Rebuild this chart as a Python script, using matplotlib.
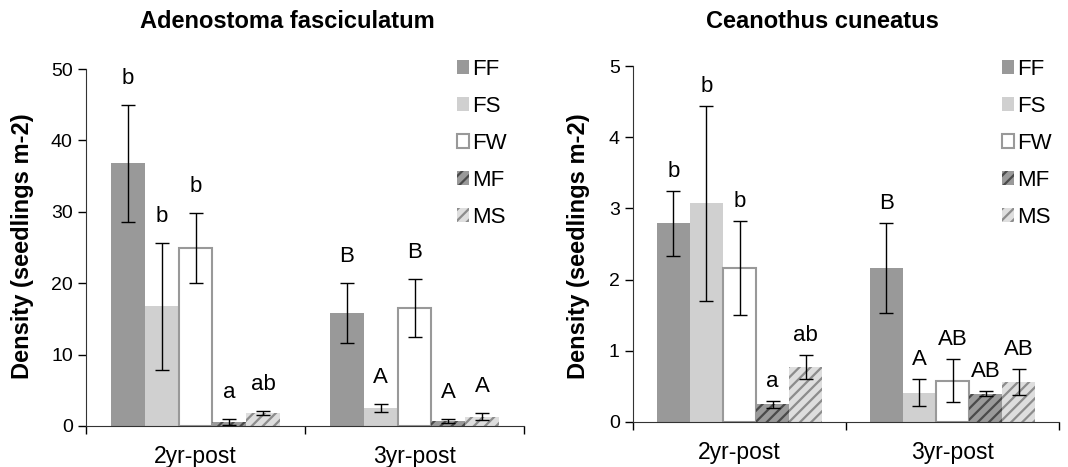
import matplotlib

matplotlib.use("Agg")

import matplotlib.pyplot as plt
import numpy as np
from matplotlib.patches import Patch

plt.rcParams["font.family"] = ["Liberation Sans", "DejaVu Sans"]
plt.rcParams["hatch.linewidth"] = 1.6

periods = ["2yr-post", "3yr-post"]
treatments = ["FF", "FS", "FW", "MF", "MS"]

# Adenostoma fasciculatum: mean, SE, letters (rows = periods)
adeno_mean = [[36.8, 16.8, 24.9, 0.6, 1.8],
              [15.8, 2.5, 16.5, 0.7, 1.3]]
adeno_err = [[8.2, 8.9, 4.9, 0.45, 0.25],
             [4.2, 0.6, 4.1, 0.3, 0.5]]
adeno_letters = [["b", "b", "b", "a", "ab"],
                 ["B", "A", "B", "A", "A"]]

# Ceanothus cuneatus
cean_mean = [[2.79, 3.07, 2.16, 0.25, 0.77],
             [2.16, 0.41, 0.58, 0.40, 0.56]]
cean_err = [[0.46, 1.37, 0.66, 0.05, 0.17],
            [0.63, 0.19, 0.30, 0.04, 0.18]]
cean_letters = [["b", "b", "b", "a", "ab"],
                ["B", "A", "AB", "AB", "AB"]]

# bar styles
STYLES = {
    "FF": dict(facecolor="#999999", edgecolor="#999999", hatch=None, lw=0),
    "FS": dict(facecolor="#d0d0d0", edgecolor="#d0d0d0", hatch=None, lw=0),
    "FW": dict(facecolor="white", edgecolor="#999999", hatch=None, lw=1.5),
    "MF": dict(facecolor="#9a9a9a", edgecolor="#4a4a4a", hatch="///", lw=0),
    "MS": dict(facecolor="#dedede", edgecolor="#8c8c8c", hatch="///", lw=0),
}

W = 0.155


def panel(ax, title, title_px, ylab_px, leg_px, means, errs, letters, ymax, ystep, off):
    means = np.array(means)
    errs = np.array(errs)
    x = np.arange(len(periods))
    for j, t in enumerate(treatments):
        s = STYLES[t]
        xs = x + (j - 2) * W
        ax.bar(xs, means[:, j], W, facecolor=s["facecolor"], edgecolor=s["edgecolor"],
               hatch=s["hatch"], linewidth=s["lw"], zorder=2)
        ax.errorbar(xs, means[:, j], yerr=errs[:, j], fmt="none", ecolor="black",
                    elinewidth=1.0, capsize=5, capthick=1.0, zorder=3)
        for i in range(len(periods)):
            ax.annotate(letters[i][j], (xs[i], means[i, j] + errs[i, j]),
                        xytext=(0, off), textcoords="offset points",
                        ha="center", va="center", fontsize=16)

    ax.set_xlim(-0.5, 1.5)
    ax.set_ylim(0, ymax)
    ax.set_yticks(np.arange(0, ymax + ystep / 2, ystep))
    ax.set_xticks(x)
    ax.set_xticklabels(periods, fontsize=16.5)
    ax.set_xticks([-0.5, 0.5, 1.5], minor=True)
    ax.tick_params(axis="x", which="major", length=0, pad=14)
    ax.tick_params(axis="x", which="minor", length=6, width=1, direction="out")
    ax.tick_params(axis="y", labelsize=14, length=6, width=1, direction="out")
    for sp in ("top", "right"):
        ax.spines[sp].set_visible(False)
    ax.spines["left"].set_color("#333333")
    ax.spines["bottom"].set_color("#333333")
    fig.text(ylab_px / 1068, 1 - 246 / 467, "Density (seedlings m-2)", rotation=90,
             ha="center", va="center", fontsize=17, fontweight="bold")
    fig.text(title_px / 1068, 1 - 22 / 467, title, ha="center", va="center",
             fontsize=17, fontweight="bold")

    handles = [Patch(facecolor=STYLES[t]["facecolor"], edgecolor=STYLES[t]["edgecolor"],
                     hatch=STYLES[t]["hatch"], linewidth=STYLES[t]["lw"], label=t)
               for t in treatments]
    ax.legend(handles=handles, loc="upper left",
              bbox_to_anchor=(leg_px / 1068, 1 - 59 / 467), bbox_transform=fig.transFigure,
              frameon=False, fontsize=16, handlelength=0.55, handleheight=0.55,
              handletextpad=0.15, labelspacing=0.72, borderaxespad=0, borderpad=0)


fig = plt.figure(figsize=(10.68, 4.67), dpi=100)
ax1 = fig.add_axes([86 / 1068, 1 - 426 / 467, 438 / 1068, 357 / 467])
ax2 = fig.add_axes([633 / 1068, 1 - 422 / 467, 426 / 1068, 356 / 467])

panel(ax1, "Adenostoma fasciculatum", 287, 23, 457, adeno_mean, adeno_err, adeno_letters, 50, 10, 19)
panel(ax2, "Ceanothus cuneatus", 822, 579, 1002, cean_mean, cean_err, cean_letters, 5, 1, 14)

fig.savefig("out.png", dpi=100)
